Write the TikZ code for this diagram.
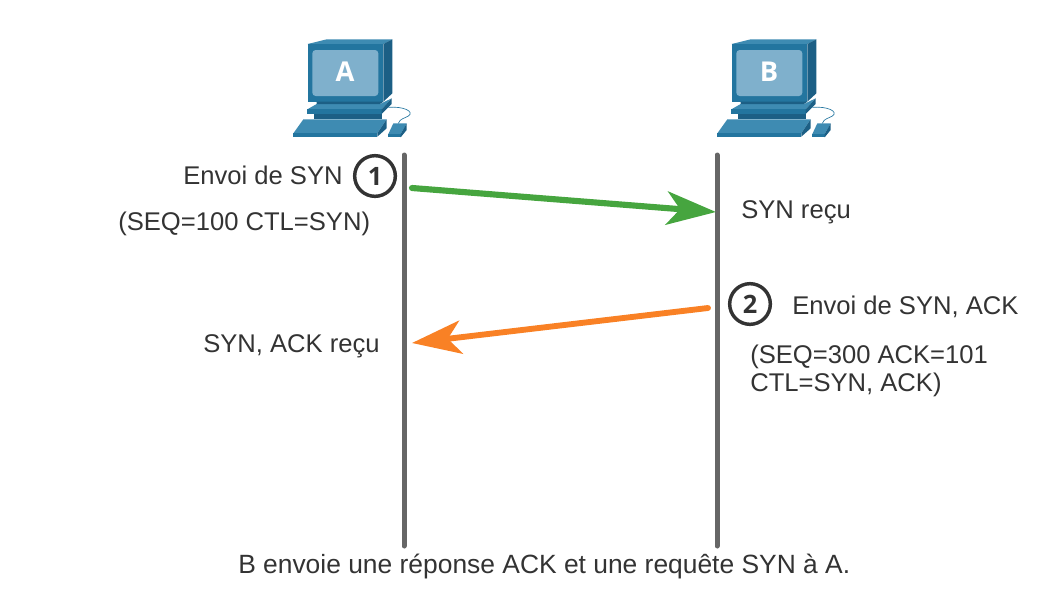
\documentclass[tikz,border=0pt]{standalone}
\usepackage{fontspec}
\setmainfont{Liberation Sans}
\newfontfamily\badgefont{Open Sans}
\usetikzlibrary{arrows.meta}
\definecolor{pcfront}{HTML}{23759F}
\definecolor{pctop}{HTML}{3E8BB2}
\definecolor{pcside}{HTML}{1C5F85}
\definecolor{pcscreen}{HTML}{7FB0CC}
\definecolor{lifeline}{HTML}{666666}
\definecolor{textgrey}{HTML}{333333}
\definecolor{syngreen}{HTML}{46A53F}
\definecolor{ackorange}{HTML}{F98125}
\tikzset{
  msg/.style={anchor=base west,inner sep=0pt,text=textgrey,font=\fontsize{19.2}{23}\selectfont},
  life/.style={lifeline,line width=3.75pt,line cap=round},
  synarrow/.style={syngreen,line width=4.6pt,line cap=round,-{Stealth[length=37pt,width=25pt,inset=10pt]}},
  ackarrow/.style={ackorange,line width=4.4pt,line cap=round,-{Stealth[length=37pt,width=25pt,inset=10pt]}},
  badge/.style={circle,draw=textgrey,line width=2.6pt,minimum size=30.5pt,inner sep=0pt,text=textgrey,font=\badgefont\bfseries\fontsize{19}{20}\selectfont},
  pics/computer/.style={code={
    \begin{scope}[x=0.25pt,y=-0.25pt]
    \fill[pctop] (83,42) -- (140,28) -- (337,28) -- (310,42) -- cycle;
    \fill[pcside] (310,42) -- (337,28) -- (337,190) -- (310,215) -- cycle;
    \fill[pcfront] (83,42) rectangle (310,215);
    \fill[pcscreen,rounded corners=2.5pt] (97,60) rectangle (295,198);
    \fill[pctop] (82,238) -- (110,222) -- (300,222) -- (335,205) -- (305,238) -- cycle;
    \fill[pcside] (110,215) -- (310,215) -- (300,222) -- (110,222) -- cycle;
    \fill[pcfront] (82,238) rectangle (305,252);
    \fill[pcside] (305,238) -- (335,205) -- (335,222) -- (305,252) -- cycle;
    \fill[pcside] (103,252) rectangle (305,268);
    \fill[pctop] (40,310) -- (70,268) -- (320,268) -- (292,310) -- cycle;
    \fill[pcfront] (40,310) rectangle (292,320);
    \fill[pcside] (292,310) -- (320,268) -- (320,295) -- (292,320) -- cycle;
    \draw[pcfront,line width=0.5pt] (325,232) .. controls (370,228) and (405,245) .. (385,258) .. controls (375,265) and (360,265) .. (355,280);
    \fill[pctop] (325,312) -- (340,280) -- (380,280) -- (362,312) -- cycle;
    \fill[pcfront] (325,312) rectangle (362,322);
    \fill[pcside] (362,312) -- (380,280) -- (380,300) -- (362,322) -- cycle;
    \node[text=white,inner sep=0pt,font=\badgefont\bfseries\fontsize{20.5}{22}\selectfont] (name) at (195,125) {#1};
    \end{scope}
  }},
}
\begin{document}
\begin{tikzpicture}[x=0.75pt,y=-0.75pt]
\useasboundingbox (0,0) rectangle (1058,601);
\pic (hostA) at (280,30) {computer=A};
\pic (hostB) at (704,30) {computer=B};
% lifelines
\coordinate (atop) at (404,155);
\coordinate (abot) at (404,546);
\coordinate (btop) at (717,155);
\coordinate (bbot) at (717,546);
\draw[life] (atop) -- (abot);
\draw[life] (btop) -- (bbot);
% messages
\coordinate (synfrom) at (412,188);
\coordinate (synto) at (716,212);
\coordinate (ackfrom) at (708,308);
\coordinate (ackto) at (412,343);
\draw[synarrow] (synfrom) -- (synto);
\draw[ackarrow] (ackfrom) -- (ackto);
\node[badge] (one) at (375,176) {1};
\node[badge] (two) at (750,304) {2};
\node[msg] (sendsyn) at (183,184) {Envoi de SYN};
\node[msg] (seqa) at (118,230) {(SEQ=100 CTL=SYN)};
\node[msg] (gotsyn) at (741,218) {SYN reçu};
\node[msg] (sendack) at (792,314) {Envoi de SYN, ACK};
\node[msg] (seqb) at (750,363) {(SEQ=300 ACK=101};
\node[msg] (ctlb) at (750,391.5) {CTL=SYN, ACK)};
\node[msg] (gotack) at (203,352) {SYN, ACK reçu};
\node[msg,font=\fontsize{19.8}{23}\selectfont] (caption) at (238,573) {B envoie une réponse ACK et une requête SYN à A.};
\end{tikzpicture}
\end{document}
